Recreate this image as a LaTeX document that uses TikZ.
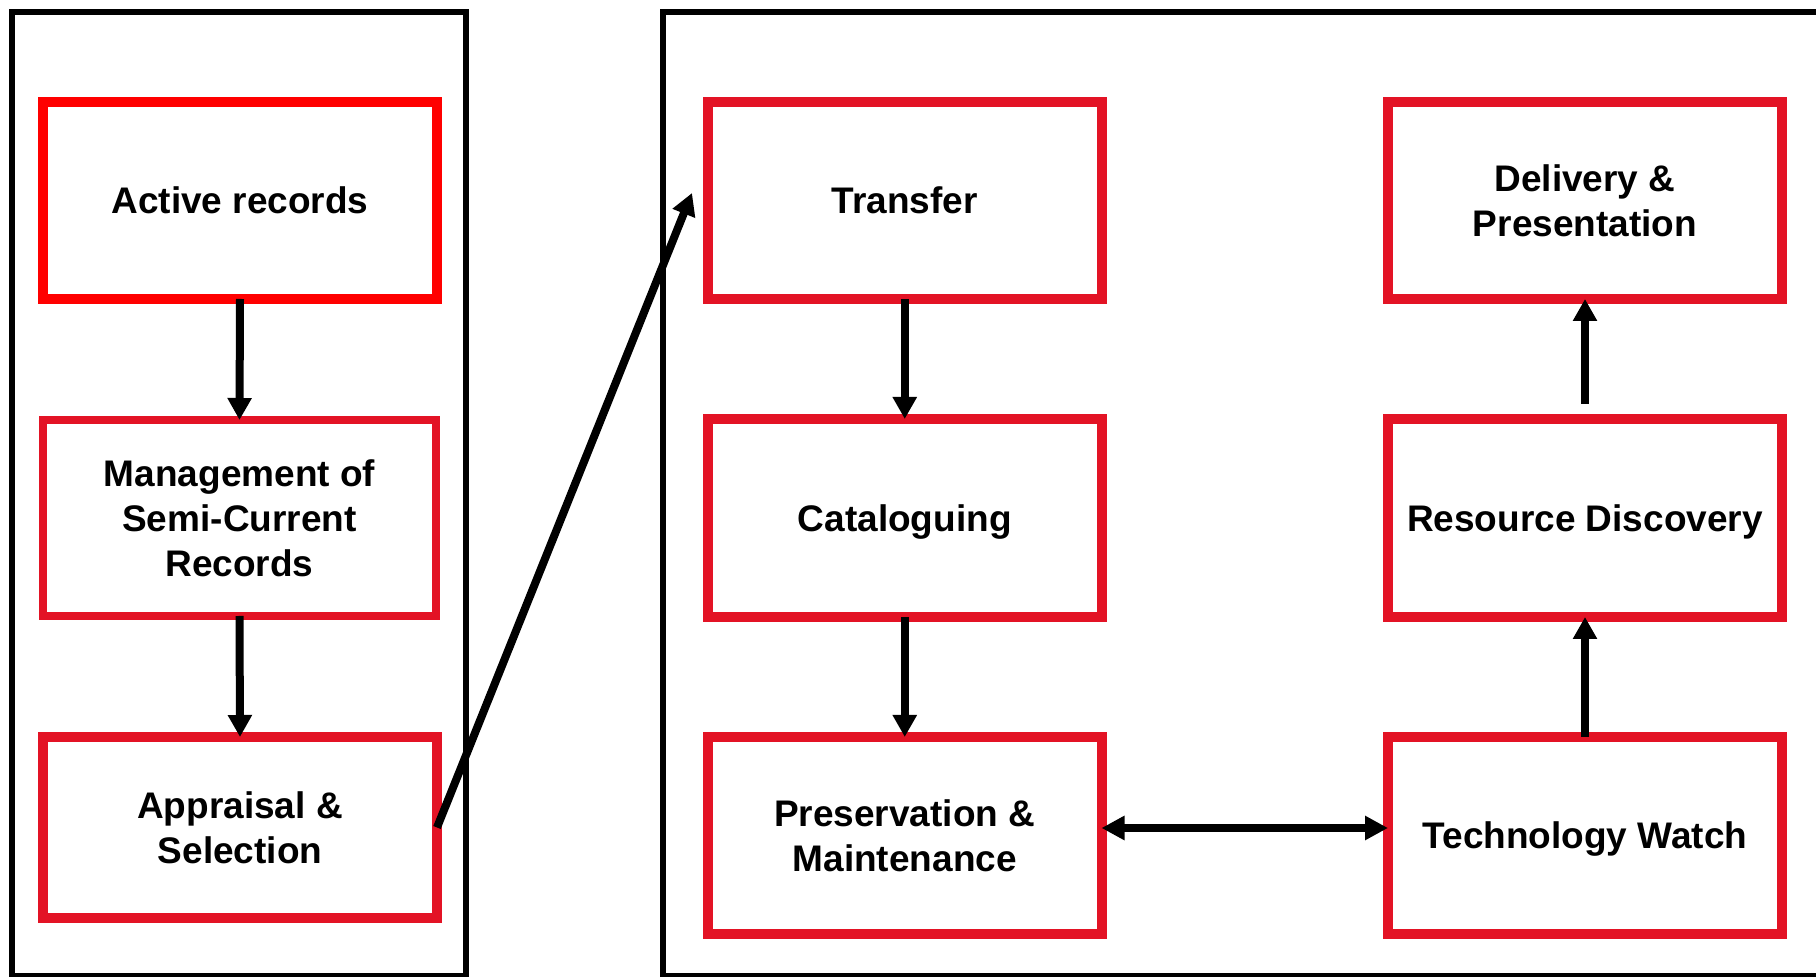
\documentclass[tikz,border=0pt]{standalone}
\usepackage{fontspec}
\setmainfont{Liberation Sans}
\usetikzlibrary{arrows.meta}
\definecolor{crim}{HTML}{E31325}
\definecolor{pure}{HTML}{FF0000}
\tikzset{
  box/.style={draw=crim, line width=5pt, fill=white, inner sep=0pt, outer sep=0pt, align=center,
    font=\fontsize{18.5pt}{22.5pt}\selectfont\bfseries},
  flat/.style={text depth=0pt},
  frame/.style={draw=black, line width=2.75pt},
  conn/.style={line width=4pt, -{Triangle[length=11pt,width=11.5pt]}},
  dconn/.style={line width=4pt, {Triangle[length=11.5pt,width=11.5pt]}-{Triangle[length=11.5pt,width=11.5pt]}}
}
\begin{document}
\begin{tikzpicture}[x=0.5pt,y=-0.5pt]
\useasboundingbox (0,0) rectangle (1816,977);
\fill[white] (0,0) rectangle (1816,977);
\draw[frame] (12,12) rectangle (466,976);
\draw[frame] (663,12) rectangle (1840,976);
% left column
\node[box, flat, draw=pure, minimum width=197pt, minimum height=98.5pt] (act) at (240,200.5) {Active records};
\node[box, line width=4pt, minimum width=196.5pt, minimum height=98pt] (mgmt) at (239.5,518) {Management of\\Semi-Current\\Records};
\node[box, minimum width=197pt, minimum height=90.5pt] (app) at (240,827.5) {Appraisal \&\\Selection};
% middle column
\node[box, flat, minimum width=196.75pt, minimum height=98.5pt] (tra) at (904.75,200.5) {Transfer};
\node[box, flat, minimum width=196.75pt, minimum height=99pt] (cat) at (904.75,518) {Cataloguing};
\node[box, minimum width=196.75pt, minimum height=98.5pt] (pres) at (904.75,835.5) {Preservation \&\\Maintenance};
% right column
\node[box, minimum width=197pt, minimum height=98.5pt] (del) at (1585,200.5) {Delivery \&\\Presentation};
\node[box, flat, minimum width=197pt, minimum height=99pt] (res) at (1585,518) {Resource Discovery};
\node[box, flat, minimum width=197pt, minimum height=98.5pt] (tech) at (1585,835.5) {Technology Watch};
\coordinate (tip) at (692,193);
% connectors
\draw[conn] (act.south) -- (mgmt.north);
\draw[conn] (mgmt.south) -- (app.north);
\draw[conn] (app.east) -- (tip);
\draw[conn] (tra.south) -- (cat.north);
\draw[conn] (cat.south) -- (pres.north);
\draw[dconn] ([yshift=3.75pt]pres.east) -- ([yshift=3.75pt]tech.west);
\draw[conn] (tech.north) -- (res.south);
\draw[conn] ([yshift=7.5pt]res.north) -- (del.south);
\end{tikzpicture}
\end{document}
